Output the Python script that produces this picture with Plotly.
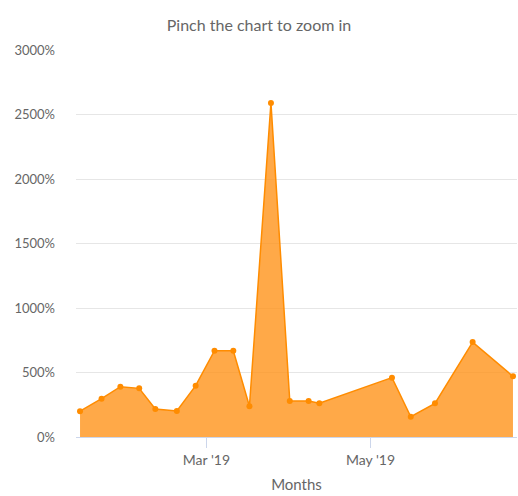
import plotly.graph_objects as go

dates = ["2019-01-13", "2019-01-21", "2019-01-28", "2019-02-04", "2019-02-10",
         "2019-02-18", "2019-02-25", "2019-03-04", "2019-03-11", "2019-03-17",
         "2019-03-25", "2019-04-01", "2019-04-08", "2019-04-12", "2019-05-09",
         "2019-05-16", "2019-05-25", "2019-06-08", "2019-06-23"]
values = [200, 297, 390, 377, 217, 201, 398, 669, 669, 238,
          2590, 279, 279, 261, 460, 157, 261, 736, 470]

title_text = "Pinch the chart to zoom in"
x_title = "Months"

fig = go.Figure()
fig.add_trace(go.Scatter(
    x=dates, y=values, mode="lines+markers",
    fill="tozeroy",
    fillcolor="rgba(255,145,20,0.78)",
    line=dict(color="#ff8c00", width=1.5),
    marker=dict(color="#ff8c00", size=6),
    hoverinfo="skip",
    cliponaxis=False,
))

fig.update_layout(
    width=518, height=496,
    margin=dict(l=76, r=1, t=50, b=59, autoexpand=False),
    paper_bgcolor="white", plot_bgcolor="white",
    font=dict(family="Lato, 'Open Sans', sans-serif", color="#666666"),
    showlegend=False,
    title=dict(text=title_text, x=0.5, xanchor="center", y=1 - 25 / 496,
               yanchor="middle", font=dict(size=16, color="#666666")),
    xaxis=dict(
        type="date", automargin=False,
        range=["2019-01-11 12:00", "2019-06-24 12:00"],
        tick0="2019-01-01", dtick="M2", tickformat="%b '%y",
        ticks="outside", ticklen=10, tickcolor="#ccd6eb", tickwidth=1,
        showline=True, linecolor="#ccd6eb", linewidth=1,
        showgrid=False, zeroline=False,
        tickfont=dict(size=14, color="#666666"),
        title=dict(text=x_title, font=dict(size=15, color="#666666"), standoff=12),
    ),
    yaxis=dict(
        range=[0, 3000], tick0=0, dtick=500, automargin=False,
        ticksuffix="%", showgrid=True, gridcolor="#e6e6e6", gridwidth=1,
        zeroline=False, showline=False,
        tickfont=dict(size=13, color="#666666"),
        ticks="", ticklabelstandoff=20,
    ),
)

fig.write_html("out.html", config={"displayModeBar": False},
               post_script="document.body.style.margin='0';document.body.style.overflow='hidden';")
